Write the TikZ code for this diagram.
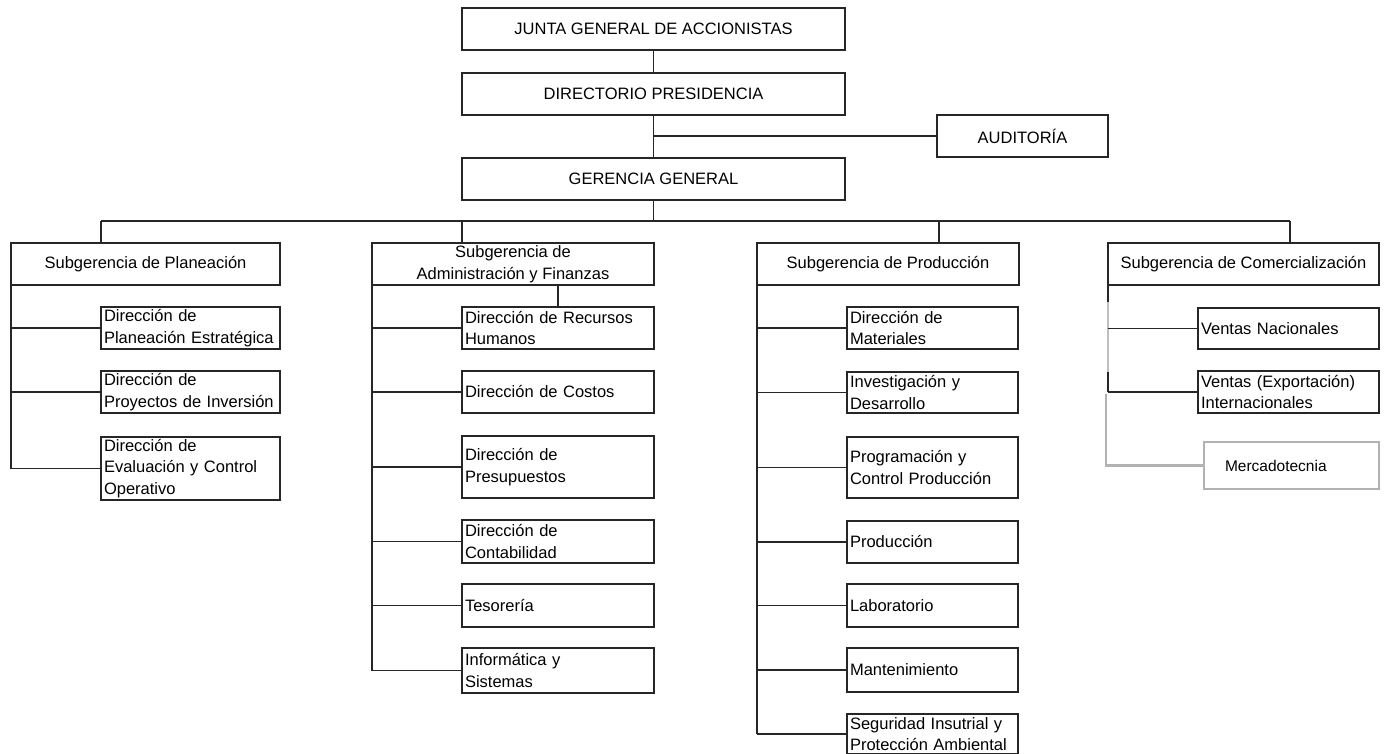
\documentclass[tikz,border=0pt]{standalone}
\usepackage{fontspec}
\setmainfont{Liberation Sans}
\begin{document}
\begin{tikzpicture}[x=1pt, y=-1pt, line width=1.4pt, draw=black!85,
    every node/.style={font=\fontsize{16.5}{21.5}\selectfont},
    topbox/.style={draw=black!85, anchor=north west, outer sep=0pt, inner sep=0pt, minimum width=383, minimum height=42},
    subbox/.style={draw=black!85, anchor=north west, outer sep=0pt, inner sep=0pt, minimum height=42, align=center},
    dirbox/.style={draw=black!85, anchor=north west, outer sep=0pt, inner xsep=3pt, inner ysep=0pt, minimum height=42, align=left, text width=#1}]
        \useasboundingbox (0,0) rectangle (1385,754);

        % direccion superior
        \node[topbox] (junta) at (462,8) {JUNTA GENERAL DE ACCIONISTAS};
        \node[topbox] (dirp) at (462,73) {DIRECTORIO PRESIDENCIA};
        \node[topbox] (ger) at (462,158) {GERENCIA GENERAL};
        \node[topbox, minimum width=171] (aud) at (937,115) {AUDITORÍA};

        \draw (junta.south) -- (dirp.north);
        \draw (dirp.south) -- (ger.north);
        \draw (aud.west) -- (aud.west -| dirp.south);

        % barra de subgerencias
        \coordinate (bp) at (101,221);
        \coordinate (ba) at (462,221);
        \coordinate (bpr) at (939,221);
        \coordinate (bc) at (1290,221);
        \draw (ger.south) -- (ger.south |- bp);
        \draw (bp) -- (bc);

        \node[subbox, minimum width=269] (sp) at (11,243) {Subgerencia de Planeación};
        \node[subbox, minimum width=282] (sa) at (372,243) {Subgerencia de\\Administración y Finanzas};
        \node[subbox, minimum width=262] (spr) at (757,243) {Subgerencia de Producción};
        \node[subbox, minimum width=271] (sc) at (1108,243) {Subgerencia de Comercialización};

        \draw (bp) -- (bp |- sp.north);
        \draw (ba) -- (ba |- sa.north);
        \draw (bpr) -- (bpr |- spr.north);
        \draw (bc) -- (bc |- sc.north);

        % planeacion
        \node[dirbox=173pt] (pe) at (101,307) {Dirección de\\Planeación Estratégica};
        \node[dirbox=173pt] (pi) at (101,371) {Dirección de\\Proyectos de Inversión};
        \node[dirbox=173pt, minimum height=63] (pc) at (101,437) {Dirección de\\Evaluación y Control\\Operativo};

        \draw (sp.south west) -- (sp.south west |- pc.west);
        \foreach \n in {pe,pi,pc}
            \draw (\n.west) -- (\n.west -| sp.south west);

        % administracion y finanzas
        \node[dirbox=186pt] (rh) at (462,307) {Dirección de Recursos\\Humanos};
        \node[dirbox=186pt] (co) at (462,371) {Dirección de Costos};
        \node[dirbox=186pt, minimum height=62] (pp) at (462,436) {Dirección de\\Presupuestos};
        \node[dirbox=186pt, minimum height=43] (cb) at (462,520) {Dirección de\\Contabilidad};
        \node[dirbox=186pt, minimum height=43] (te) at (462,584) {Tesorería};
        \node[dirbox=186pt, minimum height=45] (inf) at (462,648) {Informática y\\Sistemas};

        \draw (rh.north) -- (rh.north |- sa.south);
        \draw (sa.south west) -- (sa.south west |- inf.west);
        \foreach \n in {rh,co,pp,cb,te,inf}
            \draw (\n.west) -- (\n.west -| sa.south west);

        % produccion
        \node[dirbox=165pt] (ma) at (847,307) {Dirección de\\Materiales};
        \node[dirbox=165pt, minimum height=41] (id) at (847,372) {Investigación y\\Desarrollo};
        \node[dirbox=165pt, minimum height=61] (pg) at (847,437) {Programación y\\Control Producción};
        \node[dirbox=165pt] (pd) at (847,521) {Producción};
        \node[dirbox=165pt, minimum height=43] (lb) at (847,584) {Laboratorio};
        \node[dirbox=165pt, minimum height=44] (mt) at (847,648) {Mantenimiento};
        \node[dirbox=165pt, minimum height=40] (sg) at (847,714) {Seguridad Insutrial y\\Protección Ambiental};

        \draw (spr.south west) -- (spr.south west |- sg.west);
        \foreach \n in {ma,id,pg,pd,lb,mt,sg}
            \draw (\n.west) -- (\n.west -| spr.south west);

        % comercializacion
        \node[dirbox=175pt, minimum height=41] (vn) at (1198,308) {Ventas Nacionales};
        \node[dirbox=175pt] (vi) at (1198,371) {Ventas (Exportación)\\Internacionales};
        \node[dirbox=133pt, draw=gray!60, inner xsep=21pt, minimum height=47, font=\fontsize{15.5}{19}\selectfont] (mk) at (1204,442) {Mercadotecnia};

        \coordinate (c1) at (1108,302);
        \coordinate (c2) at (1108,372);
        \coordinate (c3) at (1106,394);
        \draw (sc.south west) -- (c1);
        \draw[gray!50] (c1) -- (c2);
        \draw (c2) -- (c2 |- vi.west);
        \draw (vn.west) -- (vn.west -| sc.south west);
        \draw (vi.west) -- (vi.west -| sc.south west);
        \draw[gray!60, line width=2.2pt] (c3) |- (mk.west);
\end{tikzpicture}
\end{document}
